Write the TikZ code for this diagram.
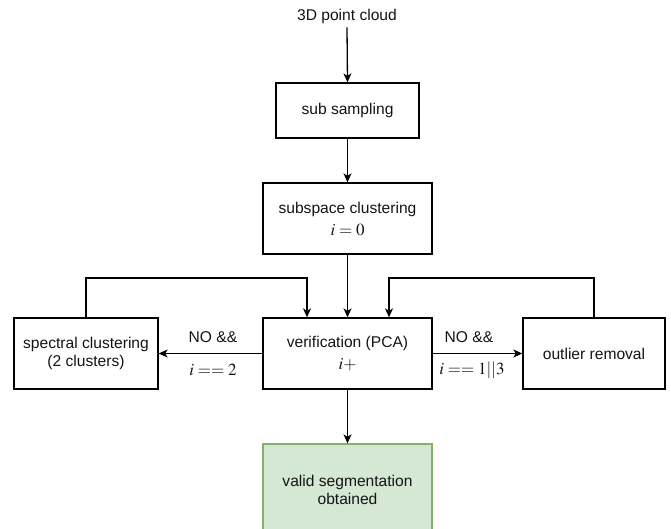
\documentclass[tikz,border=0pt]{standalone}
\usepackage{mathptmx}
\usepackage{fontspec}
\setmainfont{Liberation Sans}
\usetikzlibrary{arrows.meta}
\newcommand{\mth}[1]{{\fontsize{17}{20}\selectfont$#1$}}
\begin{document}
\begin{tikzpicture}[x=1pt,y=-1pt,
  every node/.style={font=\fontsize{15.6}{18}\selectfont, text={rgb,255:red,20;green,20;blue,20}},
  box/.style={draw=black, line width=1.3pt, rectangle, inner sep=0pt, align=center},
  okbox/.style={draw={rgb,255:red,130;green,179;blue,102}, fill={rgb,255:red,213;green,232;blue,212}, line width=1.3pt, rectangle, inner sep=0pt, align=center},
  arr/.style={line width=1.3pt, -{Stealth[length=9pt,width=8pt,inset=2.5pt]}},
  lbl/.style={inner sep=0pt}
]
\useasboundingbox (0,0) rectangle (671,529);
\node[lbl] (cloud) at (347,16) {3D point cloud};
\node[box, minimum width=143pt, minimum height=55pt] (sub) at (347.5,110.5) {sub sampling};
\node[box, minimum width=169pt, minimum height=71pt] (subsp) at (347.5,218.5) {subspace clustering\\[4pt] \mth{i=0}};
\node[box, minimum width=169pt, minimum height=71pt] (ver) at (347.5,353.5) {verification (PCA)\\[4pt] \mth{i+}};
\node[box, minimum width=144pt, minimum height=71pt] (spec) at (86,353.5) {spectral clustering\\(2 clusters)};
\node[box, minimum width=142pt, minimum height=71pt] (out) at (594,353.5) {outlier removal};
\node[okbox, minimum width=169pt, minimum height=92pt] (valid) at (347.5,490) {valid segmentation\\obtained};
\coordinate (loopy) at (0,278);

\draw[arr] ([yshift=-4pt]cloud.south) -- (sub.north);
\draw[arr] (sub.south) -- (subsp.north);
\draw[arr] (subsp.south) -- (ver.north);
\draw[arr] (ver.south) -- (valid.north);
\draw[arr] (ver.west) -- (spec.east);
\draw[arr] (ver.east) -- (out.west);
\draw[arr] (spec.north) -- (spec.north |- loopy) -| ([xshift=-40.5pt]ver.north);
\draw[arr] (out.north) -- (out.north |- loopy) -| ([xshift=41.5pt]ver.north);

\node[lbl] (l1) at (213,337) {NO \&\&};
\node[lbl] (l2) at (213,370) {\mth{i == 2}};
\node[lbl] (l3) at (469,337) {NO \&\&};
\node[lbl] (l4) at (472,370) {\mth{i == 1||3}};
\end{tikzpicture}
\end{document}
